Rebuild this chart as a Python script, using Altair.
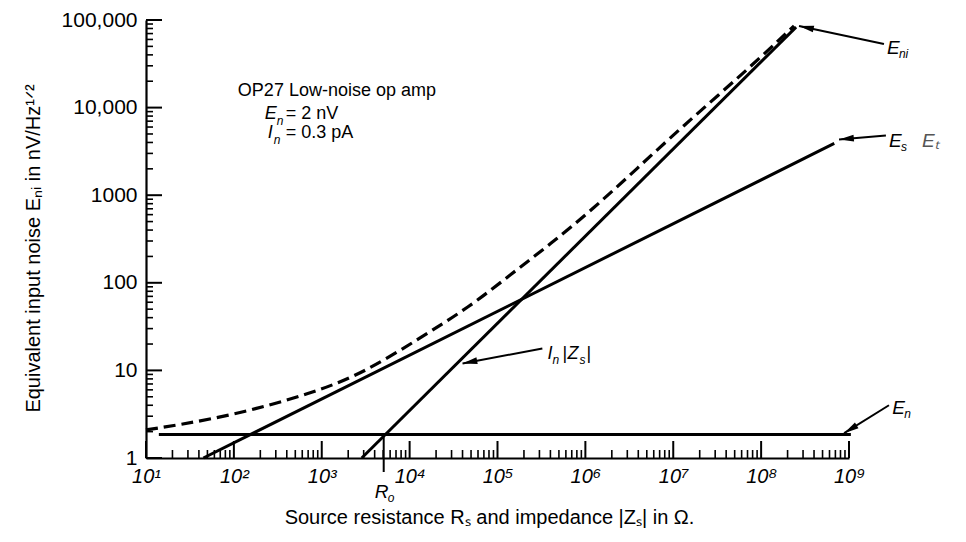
import altair as alt
import pandas as pd

FONT = "Liberation Sans"
W, H = 703, 438

# ---------------- data ----------------
en_x = [14, 1.05e9]            # E_n  (op-amp voltage noise)
en_y = [1.85, 1.85]
es_x = [45, 6.8e8]             # E_s  (thermal noise of source)
es_y = [1.0, 3900]
inz_x = [2850, 2.5e8]          # I_n|Z_s|
inz_y = [1.0, 83000]
eni_x = [10, 82, 791, 3083, 13340, 46800, 144200, 400000, 1.25e6,
         3.9e6, 1.2e7, 6.58e7, 2.37e8]          # E_ni (dashed total)
eni_y = [2.09, 2.92, 5.48, 9.49, 23.7, 52.0, 126.5, 277, 711,
         2028, 5770, 25650, 85500]

ro_x = 5070                      # R_o marker
ro_y = 1.85

y_major = [1, 10, 100, 1000, 10000, 100000]
y_labels = ["1", "10", "100", "1000", "10,000", "100,000"]
x_major = [1e1, 1e2, 1e3, 1e4, 1e5, 1e6, 1e7, 1e8, 1e9]
x_labels = ["10¹", "10²", "10³", "10⁴", "10⁵", "10⁶", "10⁷", "10⁸", "10⁹"]
minor_mult = [2, 3, 4, 5, 6, 7, 8, 9]

# arrows: tail -> tip, in data units
arr_tail_x = [2.5e9, 2.63e9, 324000, 2.85e9]
arr_tail_y = [53300, 4800, 17.8, 4.0]
arr_tip_x = [2.7e8, 7.7e8, 40000, 8.8e8]
arr_tip_y = [85500, 4330, 12.0, 1.92]
arr_angle = [282, 265, 259, 238]

# text anchors (data units)
note_x = [111, 225, 243]
note_y = [15600, 8550, 5070]
lab_eni = (2.7e9, 48100)
lab_es = (2.85e9, 4110)
lab_inz = (370000, 15.2)
lab_en = (3.1e9, 3.7)
lab_ro = (4000, 0.41)

# ---------------- scales & axes ----------------
xs = alt.Scale(type="log", domain=[10, 1e9], nice=False)
ys = alt.Scale(type="log", domain=[1, 1e5], nice=False)


def x_lbl_expr():
    parts = []
    for i, lab in enumerate(x_labels):
        parts.append(f"round(log(datum.value)/LN10) == {i + 1} ? '{lab}' : ")
    return "".join(parts) + "''"


def y_lbl_expr():
    parts = []
    for i, lab in enumerate(y_labels):
        parts.append(f"round(log(datum.value)/LN10) == {i} ? '{lab}' : ")
    return "".join(parts) + "''"


x_axis = alt.Axis(
    values=x_major, labelExpr=x_lbl_expr(), ticks=False, grid=False,
    labelFont=FONT, labelFontSize=20, labelFontStyle="italic", labelColor="black",
    labelPadding=8, labelFlush=False,
    domainColor="black", domainWidth=2.2,
    title="Source resistance Rₛ and impedance |Zₛ| in Ω.",
    titleFont=FONT, titleFontSize=20, titleFontWeight="normal", titleColor="black",
    titleX=343, titleY=59, titleAnchor="middle", titleAlign="center", titleBaseline="middle",
)
y_axis = alt.Axis(
    values=y_major, labelExpr=y_lbl_expr(), ticks=False, grid=False,
    labelFont=FONT, labelFontSize=21, labelColor="black", labelPadding=9,
    labelFlush=False, labelBaseline="middle",
    domainColor="black", domainWidth=2.2,
    title="Equivalent input noise Eₙᵢ in nV/Hz¹ᐟ²",
    titleFont=FONT, titleFontSize=20, titleFontWeight="normal", titleColor="black",
    titleX=-113, titleY=228, titleAngle=-90, titleAlign="center", titleBaseline="middle",
)


def X(f):
    return alt.X(f, type="quantitative", scale=xs, axis=x_axis)


def Y(f):
    return alt.Y(f, type="quantitative", scale=ys, axis=y_axis)


# ---------------- lines ----------------
solid = pd.concat([
    pd.DataFrame({"x": en_x, "y": en_y, "s": "En"}),
    pd.DataFrame({"x": es_x, "y": es_y, "s": "Es"}),
    pd.DataFrame({"x": inz_x, "y": inz_y, "s": "In"}),
])
dashed = pd.DataFrame({"x": eni_x, "y": eni_y})

base_solid = alt.Chart(solid).mark_line(color="black", strokeWidth=3).encode(
    x=X("x"), y=Y("y"), detail="s:N",
)
dash_line = alt.Chart(dashed).mark_line(
    color="black", strokeWidth=3.2, strokeDash=[12, 6], interpolate="basis"
).encode(x=X("x"), y=Y("y"))

# ---------------- inward ticks ----------------
y_minor = [m * d for d in y_major[:-1] for m in minor_mult]
x_minor = [m * d for d in x_major[:-1] for m in minor_mult]

ytick_major = alt.Chart(pd.DataFrame({"y": y_major})).mark_rule(color="black", strokeWidth=2).encode(
    y=Y("y"), x=alt.value(0), x2=alt.value(16))
ytick_minor = alt.Chart(pd.DataFrame({"y": y_minor})).mark_rule(color="black", strokeWidth=1.6).encode(
    y=Y("y"), x=alt.value(0), x2=alt.value(7))
xtick_major = alt.Chart(pd.DataFrame({"x": x_major})).mark_rule(color="black", strokeWidth=2).encode(
    x=X("x"), y=alt.value(H), y2=alt.value(H - 17))
xtick_minor = alt.Chart(pd.DataFrame({"x": x_minor})).mark_rule(color="black", strokeWidth=1.6).encode(
    x=X("x"), y=alt.value(H), y2=alt.value(H - 8))

ro_tick = alt.Chart(pd.DataFrame({"x": [ro_x], "y": [ro_y]})).mark_rule(color="black", strokeWidth=2).encode(
    x=X("x"), y=Y("y"), y2=alt.value(H + 14),
)

# ---------------- arrows ----------------
arr = pd.DataFrame({"x": arr_tail_x, "y": arr_tail_y, "hx": arr_tip_x, "hy": arr_tip_y, "a": arr_angle})
arrow_lines = alt.Chart(arr).mark_rule(color="black", strokeWidth=2).encode(
    x=X("x"), y=Y("y"), x2="hx:Q", y2="hy:Q",
)
arrow_heads = alt.Chart(arr).mark_point(
    shape="M0,0L-0.45,2L0.45,2Z", filled=True, color="black", opacity=1, size=220
).encode(
    x=X("hx"), y=Y("hy"), angle=alt.Angle("a:Q", scale=None),
)


# ---------------- text pieces ----------------
def label(pos, pieces):
    layers = []
    df = pd.DataFrame({"x": [pos[0]], "y": [pos[1]]})
    for p in pieces:
        text, dx, dy, size, style = p[:5]
        color = p[5] if len(p) > 5 else "black"
        layers.append(
            alt.Chart(df).mark_text(
                text=text, align="left", baseline="middle", dx=dx, dy=dy,
                fontSize=size, fontStyle=style, font=FONT, color=color,
            ).encode(x=X("x"), y=Y("y"))
        )
    return layers


texts = []
texts += label((note_x[0], note_y[0]), [("OP27 Low-noise op amp", 0, 0, 18, "normal")])
texts += label((note_x[1], note_y[1]), [("E", 0, 0, 18, "italic"), ("n", 12, 7, 12, "italic"),
                                        ("= 2 nV", 21, 0, 18, "normal")])
texts += label((note_x[2], note_y[2]), [("I", 0, 0, 18, "italic"), ("n", 6, 7, 12, "italic"),
                                        ("= 0.3 pA", 18, 0, 18, "normal")])
texts += label(lab_eni, [("E", 0, 0, 19, "italic"), ("ni", 12, 6, 12, "italic")])
texts += label(lab_es, [("E", 0, 0, 19, "italic"), ("s", 12, 6, 12, "italic"),
                        ("Eₜ", 33, 0, 19, "italic", "#555555")])
texts += label(lab_inz, [("I", 0, 0, 18, "italic"), ("n", 5, 6, 12, "italic"), ("|", 15, 0, 18, "normal"),
                         ("Z", 20, 0, 18, "italic"), ("s", 32, 6, 12, "italic"), ("|", 39, 0, 18, "normal")])
texts += label(lab_en, [("E", 0, 0, 19, "italic"), ("n", 12, 6, 12, "italic")])
texts += label(lab_ro, [("R", 0, 0, 19, "italic"), ("o", 13, 6, 12, "italic")])

chart = alt.layer(
    base_solid, dash_line, ytick_major, ytick_minor, xtick_major, xtick_minor, ro_tick,
    arrow_lines, arrow_heads, *texts
).properties(
    width=W, height=H,
    padding={"left": 146, "top": 20, "right": 117, "bottom": 84},
    autosize=alt.AutoSizeParams(type="none"),
    background="white",
).configure_view(stroke=None)

chart.save("out.html", embed_options={"renderer": "svg", "actions": False})
